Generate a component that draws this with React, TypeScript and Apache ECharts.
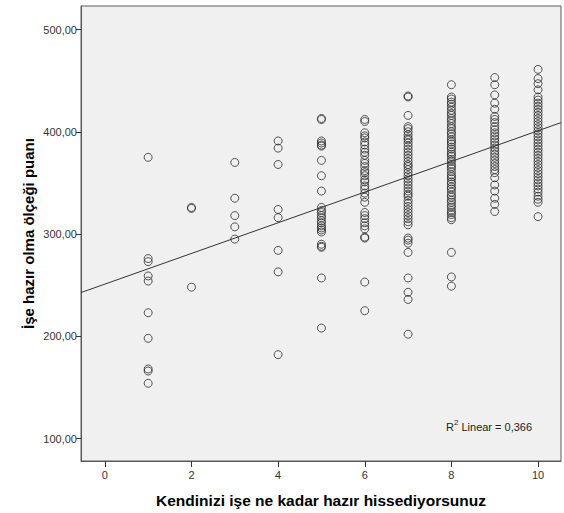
import React, { useEffect, useRef } from "react";
import * as echarts from "echarts";

// Tick values
const X_TICKS = [0, 2, 4, 6, 8, 10];
const Y_TICKS = [100, 200, 300, 400, 500];

// Observed scores per answer (x value)
const X_VALUES = [1, 2, 3, 4, 5, 6, 7, 8, 9, 10];
const SCORES_1 = [375, 276, 273, 259, 254, 223, 198, 168, 166, 154];
const SCORES_2 = [326, 325, 248];
const SCORES_3 = [370, 335, 318, 307, 295];
const SCORES_4 = [391, 384, 368, 324, 316, 284, 263, 182];
const SCORES_5 = [413, 412, 391, 389, 387, 386, 372, 357, 342, 326, 323, 321, 318, 316, 313, 311, 308, 306, 304, 302, 290, 288, 287, 257, 208];
const SCORES_6 = [412, 410, 399, 396, 394, 390, 387, 383, 380, 377, 372, 369, 366, 362, 360, 357, 353, 351, 347, 344, 340, 336, 331, 321, 318, 315, 311, 308, 305, 297, 296, 253, 225];
const SCORES_7 = [435, 434, 416, 405, 403, 400, 397, 394, 392, 389, 386, 383, 380, 377, 374, 371, 368, 366, 363, 360, 357, 354, 351, 348, 345, 342, 339, 337, 333, 330, 327, 324, 321, 318, 315, 312, 309, 296, 294, 291, 282, 257, 243, 236, 202];
const SCORES_8 = [446, 434, 432, 429, 427, 424, 421, 418, 416, 413, 411, 408, 405, 403, 400, 398, 395, 392, 390, 388, 385, 383, 380, 378, 376, 373, 371, 368, 366, 364, 361, 358, 356, 354, 351, 349, 346, 344, 341, 338, 336, 333, 331, 328, 326, 323, 321, 319, 316, 314, 282, 258, 249];
const SCORES_9 = [453, 446, 436, 428, 422, 415, 412, 409, 405, 402, 399, 396, 393, 390, 387, 384, 381, 378, 375, 372, 369, 366, 363, 360, 355, 348, 342, 335, 329, 322];
const SCORES_10 = [461, 452, 447, 441, 434, 431, 428, 425, 422, 419, 416, 413, 410, 407, 404, 401, 398, 395, 392, 389, 386, 383, 380, 377, 374, 371, 368, 365, 362, 359, 356, 353, 350, 347, 344, 341, 337, 334, 331, 317];
const SCORE_COLUMNS = [SCORES_1, SCORES_2, SCORES_3, SCORES_4, SCORES_5, SCORES_6, SCORES_7, SCORES_8, SCORES_9, SCORES_10];

// Fit line
const FIT_INTERCEPT = 251;
const FIT_SLOPE = 15;
const X_MIN = -0.55;
const X_MAX = 10.53;
const Y_MIN = 78;
const Y_MAX = 523;
const R2_LABEL = "0,366";

const FONT = "'Liberation Sans', Arial, sans-serif";

export default function App() {
  const ref = useRef<HTMLDivElement>(null);
  useEffect(() => {
    if (!ref.current) return;
    const chart = echarts.init(ref.current, undefined, { renderer: "svg" });
    const points: number[][] = [];
    X_VALUES.forEach((x, i) => {
      SCORE_COLUMNS[i].forEach((v) => points.push([x, v]));
    });
    const fmt = (v: number) => v.toFixed(2).replace(".", ",");
    chart.setOption({
      animation: false,
      backgroundColor: "#ffffff",
      grid: {
        left: 81,
        top: 6,
        right: 3,
        bottom: 50,
        show: true,
        backgroundColor: "#F0F0F0",
        borderColor: "#5a5a5a",
        borderWidth: 1,
      },
      xAxis: {
        type: "value",
        min: X_MIN,
        max: X_MAX,
        name: "Kendinizi işe ne kadar hazır hissediyorsunuz",
        nameLocation: "middle",
        nameGap: 31,
        nameMoveOverlap: false,
        nameTextStyle: { fontFamily: FONT, fontWeight: "bold", fontSize: 15.5, color: "#000" },
        axisLine: { show: true, onZero: false, lineStyle: { color: "#5a5a5a" } },
        splitLine: { show: false },
        axisTick: { show: true, length: 6, lineStyle: { color: "#333" }, customValues: X_TICKS },
        axisLabel: { customValues: X_TICKS, fontSize: 11, color: "#333", margin: 8, fontFamily: FONT },
      },
      yAxis: {
        type: "value",
        min: Y_MIN,
        max: Y_MAX,
        name: "İşe hazır olma ölçeği puanı",
        nameLocation: "middle",
        nameGap: 45,
        nameRotate: 90,
        nameMoveOverlap: false,
        nameTextStyle: { fontFamily: FONT, fontWeight: "bold", fontSize: 15, color: "#000" },
        axisLine: { show: true, onZero: false, lineStyle: { color: "#5a5a5a" } },
        splitLine: { show: false },
        axisTick: { show: true, length: 5, lineStyle: { color: "#333" }, customValues: Y_TICKS },
        axisLabel: { customValues: Y_TICKS, fontSize: 11, color: "#333", margin: 4, fontFamily: FONT, formatter: fmt },
      },
      series: [
        {
          type: "scatter",
          data: points,
          symbol: "circle",
          symbolSize: 8,
          itemStyle: { color: "rgba(0,0,0,0)", borderColor: "#2a2a2a", borderWidth: 1 },
          z: 3,
        },
        {
          type: "line",
          data: [
            [X_MIN, FIT_INTERCEPT + FIT_SLOPE * X_MIN],
            [X_MAX, FIT_INTERCEPT + FIT_SLOPE * X_MAX],
          ],
          symbol: "none",
          lineStyle: { color: "#333", width: 1 },
          z: 4,
        },
      ],
      graphic: [
        {
          type: "text",
          left: 446,
          top: 418,
          style: {
            text: "{r|R}{s|2}{r| Linear = " + R2_LABEL + "}",
            rich: {
              r: { fontSize: 11, fontFamily: FONT, fill: "#222", lineHeight: 14, verticalAlign: "bottom" },
              s: { fontSize: 8, fontFamily: FONT, fill: "#222", lineHeight: 14, verticalAlign: "top", padding: [0, 0, 6, 0] },
            },
          },
        },
      ],
    });
    return () => chart.dispose();
  }, []);
  return <div ref={ref} style={{ position: "fixed", left: 0, top: 0, width: 564, height: 513 }} />;
}
